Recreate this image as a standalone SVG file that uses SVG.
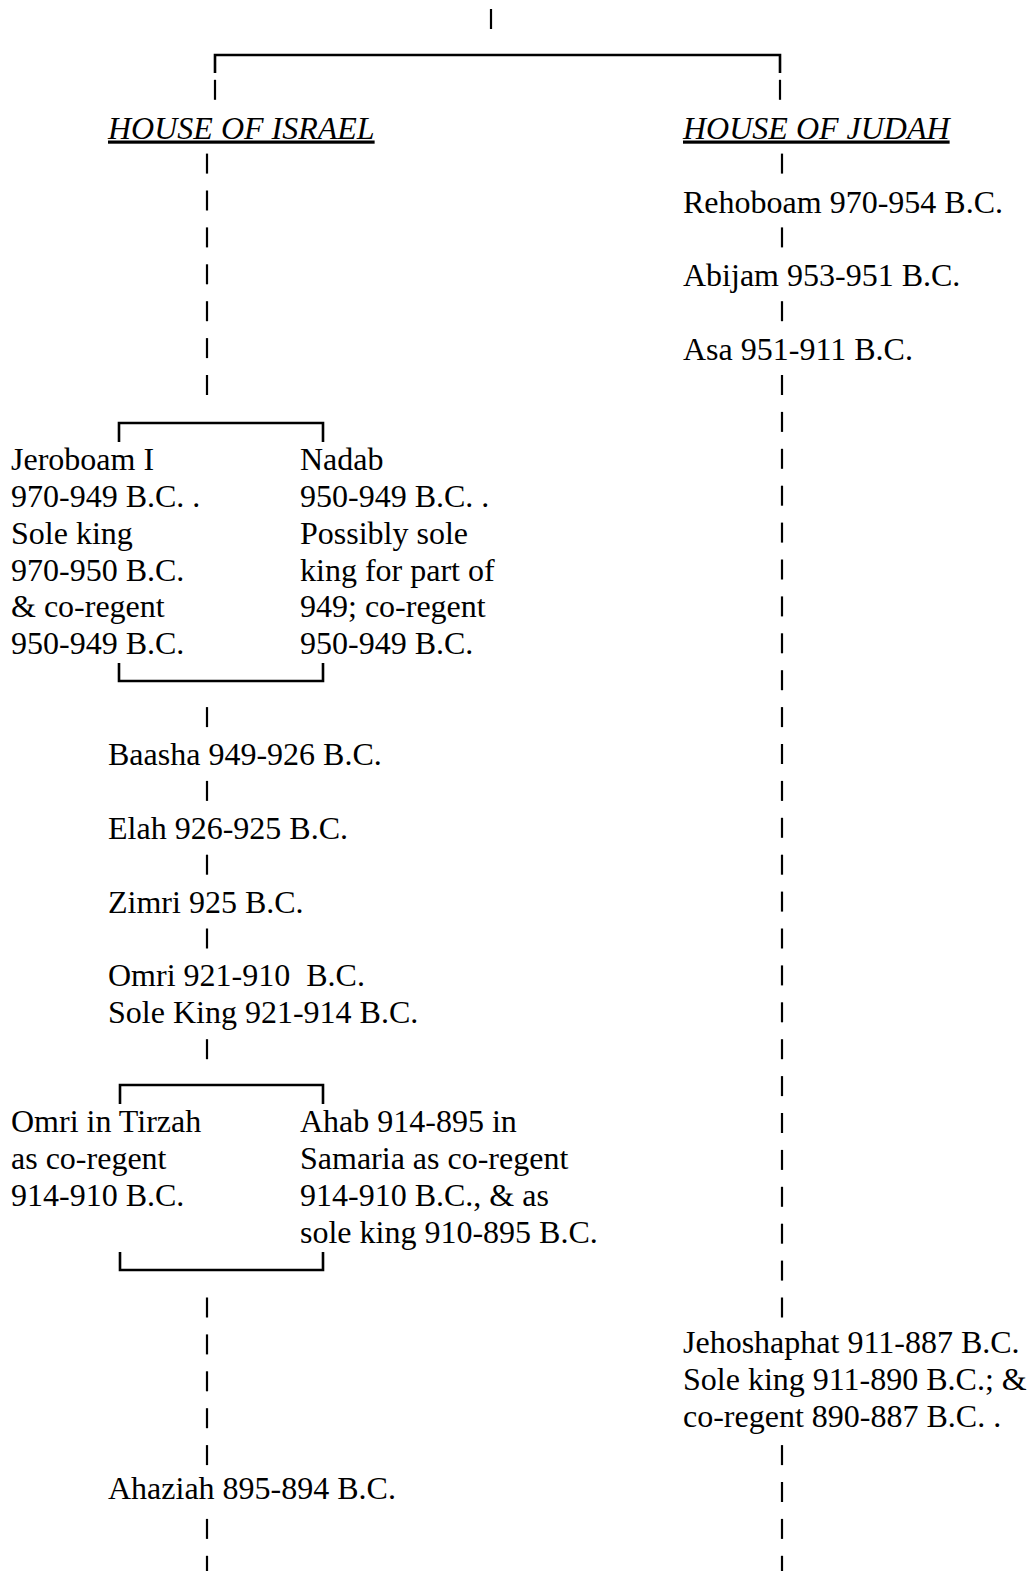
<svg xmlns="http://www.w3.org/2000/svg" xmlns:xlink="http://www.w3.org/1999/xlink" width="1035" height="1571" viewBox="0 0 1035 1571">
<style>
.t{font-family:"Liberation Serif","Times New Roman",serif;font-size:32px;fill:#000}
.h{font-style:italic;text-decoration:underline}
.bar{stroke:#000;stroke-width:2.2}
.br{stroke:#000;stroke-width:2.6;fill:none}
</style>
<defs>
<line id="bar" class="bar" x1="0" y1="-21" x2="0" y2="-1"/>
</defs>
<rect width="1035" height="1571" fill="#fff"/>
<g id="connectors">
<use href="#bar" x="491" y="30"/>
<path class="br" d="M215,73 V55 H780 V73"/>
<use href="#bar" x="215" y="100.8"/>
<use href="#bar" x="780" y="100.8"/>
<use href="#bar" x="207" y="174.6"/>
<use href="#bar" x="207" y="211.5"/>
<use href="#bar" x="207" y="248.4"/>
<use href="#bar" x="207" y="285.3"/>
<use href="#bar" x="207" y="322.2"/>
<use href="#bar" x="207" y="359.1"/>
<use href="#bar" x="207" y="396"/>
<path class="br" d="M119,442 V423 H323 V442"/>
<path class="br" d="M119,663 V681 H323 V663"/>
<use href="#bar" x="207" y="728.1"/>
<use href="#bar" x="207" y="801.9"/>
<use href="#bar" x="207" y="875.7"/>
<use href="#bar" x="207" y="949.5"/>
<use href="#bar" x="207" y="1060.2"/>
<path class="br" d="M120,1104 V1085 H323 V1104"/>
<path class="br" d="M120,1252 V1270 H323 V1252"/>
<use href="#bar" x="207" y="1318.5"/>
<use href="#bar" x="207" y="1355.4"/>
<use href="#bar" x="207" y="1392.3"/>
<use href="#bar" x="207" y="1429.2"/>
<use href="#bar" x="207" y="1466.1"/>
<use href="#bar" x="207" y="1539.9"/>
<use href="#bar" x="207" y="1576.8"/>
<use href="#bar" x="782" y="174.6"/>
<use href="#bar" x="782" y="248.4"/>
<use href="#bar" x="782" y="322.2"/>
<use href="#bar" x="782" y="396"/>
<use href="#bar" x="782" y="432.9"/>
<use href="#bar" x="782" y="469.8"/>
<use href="#bar" x="782" y="506.7"/>
<use href="#bar" x="782" y="543.6"/>
<use href="#bar" x="782" y="580.5"/>
<use href="#bar" x="782" y="617.4"/>
<use href="#bar" x="782" y="654.3"/>
<use href="#bar" x="782" y="691.2"/>
<use href="#bar" x="782" y="728.1"/>
<use href="#bar" x="782" y="765"/>
<use href="#bar" x="782" y="801.9"/>
<use href="#bar" x="782" y="838.8"/>
<use href="#bar" x="782" y="875.7"/>
<use href="#bar" x="782" y="912.6"/>
<use href="#bar" x="782" y="949.5"/>
<use href="#bar" x="782" y="986.4"/>
<use href="#bar" x="782" y="1023.3"/>
<use href="#bar" x="782" y="1060.2"/>
<use href="#bar" x="782" y="1097.1"/>
<use href="#bar" x="782" y="1134"/>
<use href="#bar" x="782" y="1170.9"/>
<use href="#bar" x="782" y="1207.8"/>
<use href="#bar" x="782" y="1244.7"/>
<use href="#bar" x="782" y="1281.6"/>
<use href="#bar" x="782" y="1318.5"/>
<use href="#bar" x="782" y="1466.1"/>
<use href="#bar" x="782" y="1503"/>
<use href="#bar" x="782" y="1539.9"/>
<use href="#bar" x="782" y="1576.8"/>
</g>
<g id="house-israel"><text class="t h" x="108" y="138.5">HOUSE OF ISRAEL</text></g>
<g id="house-judah"><text class="t h" x="683" y="138.5">HOUSE OF JUDAH</text></g>
<g id="rehoboam"><text class="t" x="683" y="212.5">Rehoboam 970-954 B.C.</text></g>
<g id="abijam"><text class="t" x="683" y="286">Abijam 953-951 B.C.</text></g>
<g id="asa"><text class="t" x="683" y="359.8">Asa 951-911 B.C.</text></g>
<g id="jeroboam"><text class="t" x="11" y="469.8">Jeroboam I<tspan x="11" dy="36.9">970-949 B.C. .</tspan><tspan x="11" dy="36.9">Sole king</tspan><tspan x="11" dy="36.9">970-950 B.C.</tspan><tspan x="11" dy="36.9">&amp; co-regent</tspan><tspan x="11" dy="36.9">950-949 B.C.</tspan></text></g>
<g id="nadab"><text class="t" x="300" y="469.8">Nadab<tspan x="300" dy="36.9">950-949 B.C. .</tspan><tspan x="300" dy="36.9">Possibly sole</tspan><tspan x="300" dy="36.9">king for part of</tspan><tspan x="300" dy="36.9">949; co-regent</tspan><tspan x="300" dy="36.9">950-949 B.C.</tspan></text></g>
<g id="baasha"><text class="t" x="108" y="765">Baasha 949-926 B.C.</text></g>
<g id="elah"><text class="t" x="108" y="838.8">Elah 926-925 B.C.</text></g>
<g id="zimri"><text class="t" x="108" y="912.6">Zimri 925 B.C.</text></g>
<g id="omri"><text class="t" x="108" y="986.4" xml:space="preserve">Omri 921-910  B.C.<tspan x="108" dy="36.9">Sole King 921-914 B.C.</tspan></text></g>
<g id="omri-tirzah"><text class="t" x="11" y="1132">Omri in Tirzah<tspan x="11" dy="36.9">as co-regent</tspan><tspan x="11" dy="36.9">914-910 B.C.</tspan></text></g>
<g id="ahab"><text class="t" x="300" y="1132">Ahab 914-895 in<tspan x="300" dy="36.9">Samaria as co-regent</tspan><tspan x="300" dy="36.9">914-910 B.C., &amp; as</tspan><tspan x="300" dy="36.9">sole king 910-895 B.C.</tspan></text></g>
<g id="jehoshaphat"><text class="t" x="683" y="1353">Jehoshaphat 911-887 B.C.<tspan x="683" dy="36.9">Sole king 911-890 B.C.; &amp;</tspan><tspan x="683" dy="36.9">co-regent 890-887 B.C. .</tspan></text></g>
<g id="ahaziah"><text class="t" x="108" y="1499">Ahaziah 895-894 B.C.</text></g>
</svg>
